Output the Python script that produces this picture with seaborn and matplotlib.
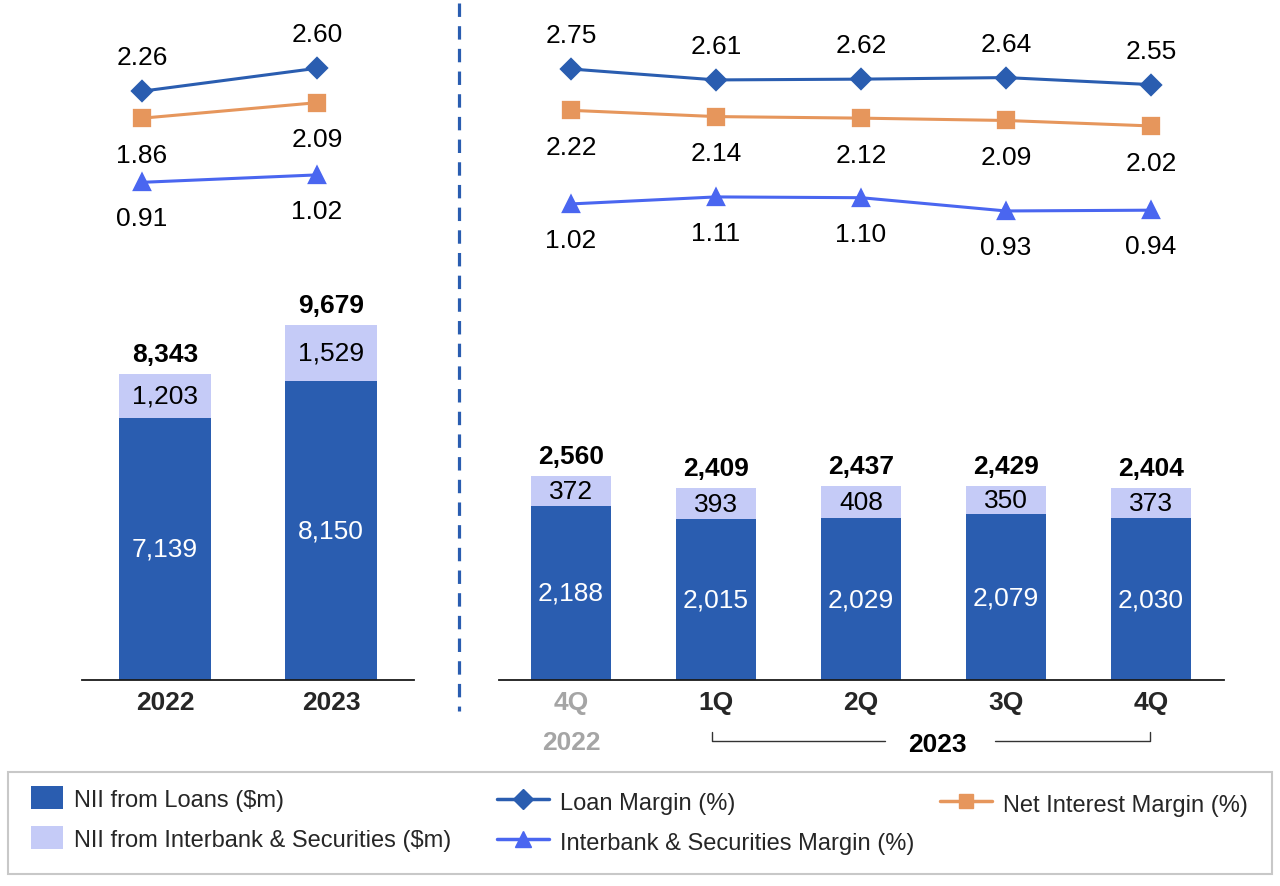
import matplotlib
matplotlib.use("Agg")
import matplotlib.pyplot as plt
import matplotlib.transforms as mtransforms
from matplotlib.lines import Line2D
from matplotlib.patches import Patch, Rectangle
import seaborn as sns

# ---------------- data ----------------
years = ["2022", "2023"]
annual_loans = [7139, 8150]
annual_sec = [1203, 1529]
annual_total = [8343, 9679]
annual_loan_margin = [2.26, 2.60]
annual_nim = [1.86, 2.09]
annual_ib_margin = [0.91, 1.02]

quarter_keys = ["4Q 2022", "1Q 2023", "2Q 2023", "3Q 2023", "4Q 2023"]
quarter_labels = ["4Q", "1Q", "2Q", "3Q", "4Q"]
q_loans = [2188, 2015, 2029, 2079, 2030]
q_sec = [372, 393, 408, 350, 373]
q_total = [2560, 2409, 2437, 2429, 2404]
q_loan_margin = [2.75, 2.61, 2.62, 2.64, 2.55]
q_nim = [2.22, 2.14, 2.12, 2.09, 2.02]
q_ib_margin = [1.02, 1.11, 1.10, 0.93, 0.94]

legend_labels = ["NII from Loans ($m)", "NII from Interbank & Securities ($m)",
                 "Loan Margin (%)", "Interbank & Securities Margin (%)",
                 "Net Interest Margin (%)"]

# ---------------- style ----------------
sns.set_style("white")
plt.rcParams["font.family"] = ["Liberation Sans", "DejaVu Sans"]

DARK = "#2A5DB0"
LIGHT = "#C5CBF7"
LOAN_C = "#2A5DB0"
NIM_C = "#E6965C"
IB_C = "#4A66F0"
GRAY = "#A5A5A5"
FS = 19
LFS = 17

W, H = 1280, 887
fig = plt.figure(figsize=(W / 100, H / 100), dpi=100)


def fx(px):
    return px / W


def fy(py):
    return 1 - py / H


# axes
ax_lb = fig.add_axes([fx(82), fy(681), 332 / W, 367 / H])
ax_rb = fig.add_axes([fx(498.5), fy(681), 725 / W, 239.1 / H])
ax_ll = fig.add_axes([fx(54.5), fy(211), 350 / W, 168.75 / H])
ax_rl = fig.add_axes([fx(498.5), fy(245.5), 725 / W, 195 / H])


def draw_bars(ax, cats, loans, sec, total, width, ymax):
    stack = [a + b for a, b in zip(loans, sec)]
    sns.barplot(x=cats, y=stack, color=LIGHT, saturation=1, width=width,
                ax=ax, linewidth=0)
    sns.barplot(x=cats, y=loans, color=DARK, saturation=1, width=width,
                ax=ax, linewidth=0)
    for i in range(len(cats)):
        ax.text(i, loans[i] / 2, f"{loans[i]:,}", color="white", fontsize=FS,
                ha="center", va="center")
        ax.text(i, loans[i] + sec[i] / 2, f"{sec[i]:,}", color="black",
                fontsize=FS, ha="center", va="center")
        ax.annotate(f"{total[i]:,}", (i, stack[i]), xytext=(0, 14.5),
                    textcoords="offset points", ha="center", va="center",
                    fontsize=FS, fontweight="bold", color="black")
    ax.set_xlim(-0.5, len(cats) - 0.5)
    ax.set_ylim(0, ymax)
    for s in ["left", "right", "top"]:
        ax.spines[s].set_visible(False)
    ax.spines["bottom"].set_color("#1a1a1a")
    ax.spines["bottom"].set_linewidth(1.3)
    ax.set_yticks([])
    ax.set_ylabel("")
    ax.set_xlabel("")
    ax.tick_params(axis="x", length=0, pad=7.5)


draw_bars(ax_lb, years, annual_loans, annual_sec, annual_total, 0.555, 10000)
ax_lb.set_xticks(range(len(years)))
ax_lb.set_xticklabels(years, fontsize=FS, fontweight="bold")

draw_bars(ax_rb, quarter_keys, q_loans, q_sec, q_total, 0.55, 3000)
ax_rb.set_xticks(range(len(quarter_keys)))
ax_rb.set_xticklabels(quarter_labels, fontsize=FS, fontweight="bold")
ax_rb.get_xticklabels()[0].set_color(GRAY)


def draw_lines(ax, cats, loan_m, nim, ib):
    specs = [(loan_m, LOAN_C, "D", 10.5, 24.5),
             (nim, NIM_C, "s", 11, -26.5),
             (ib, IB_C, "^", 11.5, -26)]
    for vals, c, m, ms, off in specs:
        sns.pointplot(x=cats, y=vals, ax=ax, color=c, markers=m,
                      markersize=ms, linewidth=2.2, errorbar=None)
        for i, v in enumerate(vals):
            ax.annotate(f"{v:.2f}", (i, v), xytext=(0, off),
                        textcoords="offset points", ha="center", va="center",
                        fontsize=FS, color="black")
    ax.set_xlim(-0.5, len(cats) - 0.5)
    ax.set_ylim(0.5, 3.0)
    ax.axis("off")


draw_lines(ax_ll, years, annual_loan_margin, annual_nim, annual_ib_margin)
draw_lines(ax_rl, quarter_keys, q_loan_margin, q_nim, q_ib_margin)

# extra labels below the quarterly axis
trans = mtransforms.blended_transform_factory(ax_rb.transData, fig.transFigure)
ax_rb.text(0, fy(743), "2022", transform=trans, ha="center", va="center",
           fontsize=FS, fontweight="bold", color=GRAY)
ax_rb.text(2.53, fy(745), "2023", transform=trans, ha="center", va="center",
           fontsize=FS, fontweight="bold", color="black")
yb, yt = fy(741.5), fy(733)
ax_rb.plot([0.972, 0.972, 2.166], [yt, yb, yb], transform=trans,
           color="#333333", lw=1.0, clip_on=False)
ax_rb.plot([2.924, 3.993, 3.993], [yb, yb, yt], transform=trans,
           color="#333333", lw=1.0, clip_on=False)

# dashed separator
fig.add_artist(Line2D([fx(459), fx(459)], [fy(4), fy(712)], color=LOAN_C,
                      lw=2.3, dashes=(4.2, 2.9)))

# legend frame
fig.add_artist(Rectangle((fx(8), fy(875)), 1264 / W, 102 / H,
                         transform=fig.transFigure, fill=False,
                         edgecolor="#C8C8C8", lw=1.5))

common = dict(fontsize=LFS, frameon=False, loc="upper left", borderpad=0,
              borderaxespad=0, handleheight=1.12, labelspacing=0.66,
              handletextpad=0.47, bbox_transform=fig.transFigure)

hA = [Patch(facecolor=DARK, edgecolor="none"), Patch(facecolor=LIGHT, edgecolor="none")]
fig.legend(hA, legend_labels[:2], bbox_to_anchor=(fx(31), fy(787)),
           handlelength=1.35, **common)

hB = [Line2D([], [], color=LOAN_C, marker="D", markersize=10, lw=2.5),
      Line2D([], [], color=IB_C, marker="^", markersize=11, lw=2.5)]
fig.legend(hB, legend_labels[2:4], bbox_to_anchor=(fx(497), fy(790)),
           handlelength=2.2, **common)

hC = [Line2D([], [], color=NIM_C, marker="s", markersize=10.5, lw=2.5)]
fig.legend(hC, legend_labels[4:], bbox_to_anchor=(fx(940), fy(792)),
           handlelength=2.2, **common)

fig.savefig("out.png", dpi=100)
